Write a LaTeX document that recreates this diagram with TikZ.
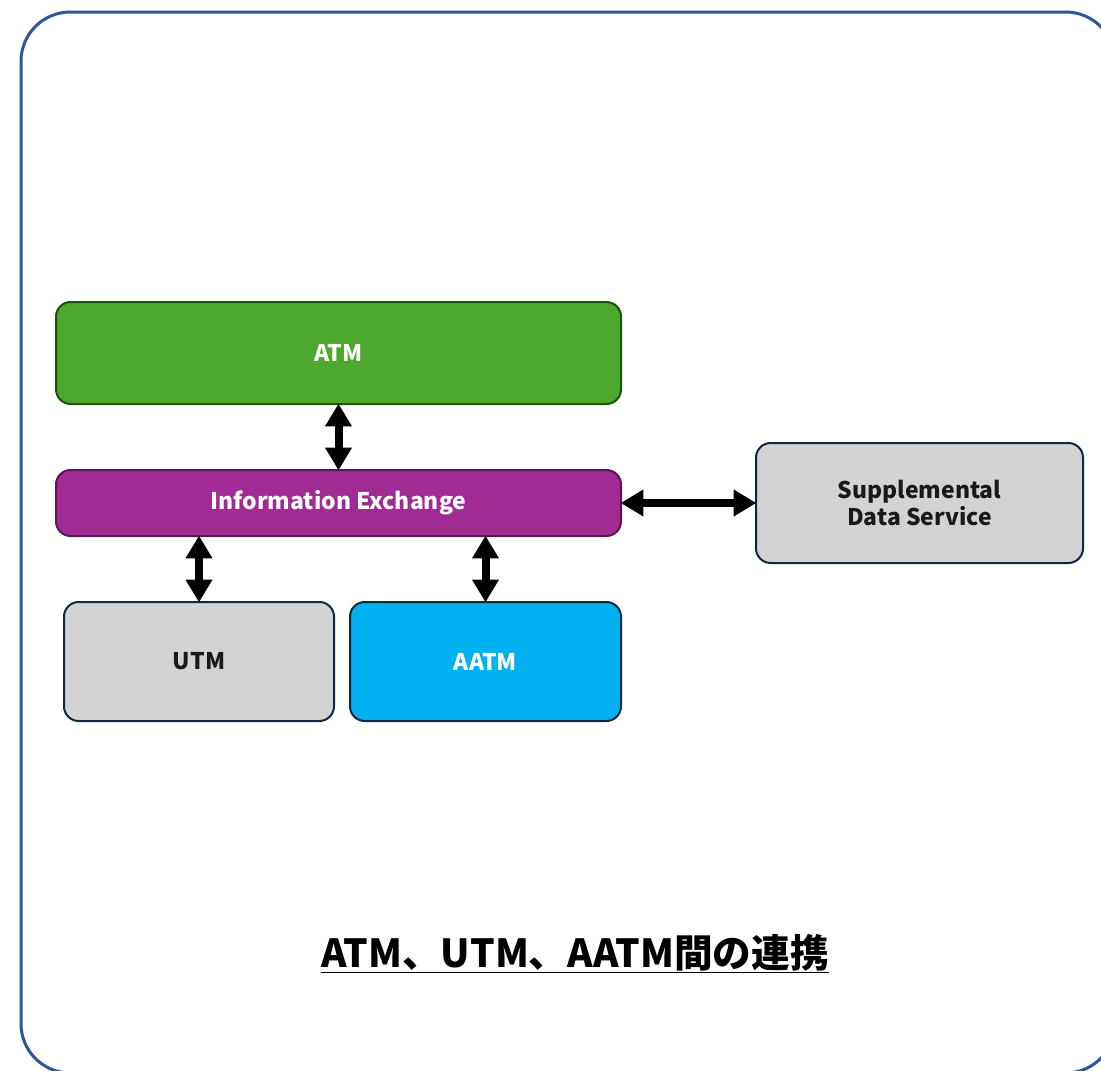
\documentclass[tikz,border=0pt]{standalone}
\usepackage{fontspec}
\setmainfont{Noto Sans CJK JP}
\usepackage{tikz}
\usetikzlibrary{arrows.meta,positioning,calc}
\definecolor{frameblue}{RGB}{47,85,151}
\definecolor{atmgreen}{RGB}{78,167,46}
\definecolor{atmedge}{RGB}{30,80,18}
\definecolor{iepurple}{RGB}{160,43,147}
\definecolor{ieedge}{RGB}{90,22,82}
\definecolor{sysgrey}{RGB}{211,211,211}
\definecolor{aatmblue}{RGB}{0,176,240}
\definecolor{boxedge}{RGB}{14,40,65}
\tikzset{
  sysbox/.style={draw=boxedge,line width=1.5pt,rounded corners=11pt,
    font=\fontsize{17.2}{20}\selectfont\bfseries,align=center,inner sep=0pt},
  linkarrow/.style={line width=6pt,{Triangle[length=17pt,width=19pt]}-{Triangle[length=17pt,width=19pt]},shorten <=-1pt,shorten >=-1pt}
}
\begin{document}
\begin{tikzpicture}[x=0.75pt,y=-0.75pt]
\useasboundingbox (0,0) rectangle (1101,1071);
\clip (0,0) rectangle (1101,1071);
% outer frame
\draw[frameblue,line width=2.25pt,rounded corners=37pt] (21,12) rectangle (1115,1073);
% systems
\node[sysbox,fill=atmgreen,draw=atmedge,text=white,minimum width=565*0.75pt,minimum height=102*0.75pt] (atm) at (338.5,353) {ATM};
\node[sysbox,fill=iepurple,draw=ieedge,text=white,minimum width=565*0.75pt,minimum height=66*0.75pt] (ie) at (338.5,503) {Information Exchange};
\node[sysbox,fill=sysgrey,text=black!90,minimum width=327*0.75pt,minimum height=120*0.75pt] (sds) at (919.5,503) {Supplemental\\Data Service};
\node[sysbox,fill=sysgrey,text=black!90,minimum width=270*0.75pt,minimum height=119*0.75pt] (utm) at (199,661.5) {UTM};
\node[sysbox,fill=aatmblue,text=white,minimum width=271*0.75pt,minimum height=119*0.75pt] (aatm) at (485.5,661.5) {AATM};
% links
\draw[linkarrow] (atm.south) -- (ie.north);
\draw[linkarrow] (ie.south -| utm.north) -- (utm.north);
\draw[linkarrow] (ie.south -| aatm.north) -- (aatm.north);
\draw[linkarrow] (ie.east) -- (sds.west);
% caption
\node[font=\fontsize{29}{34}\selectfont\bfseries,anchor=base] (caption) at (575,967) {\underline{ATM、UTM、AATM間の連携}};
\end{tikzpicture}
\end{document}
